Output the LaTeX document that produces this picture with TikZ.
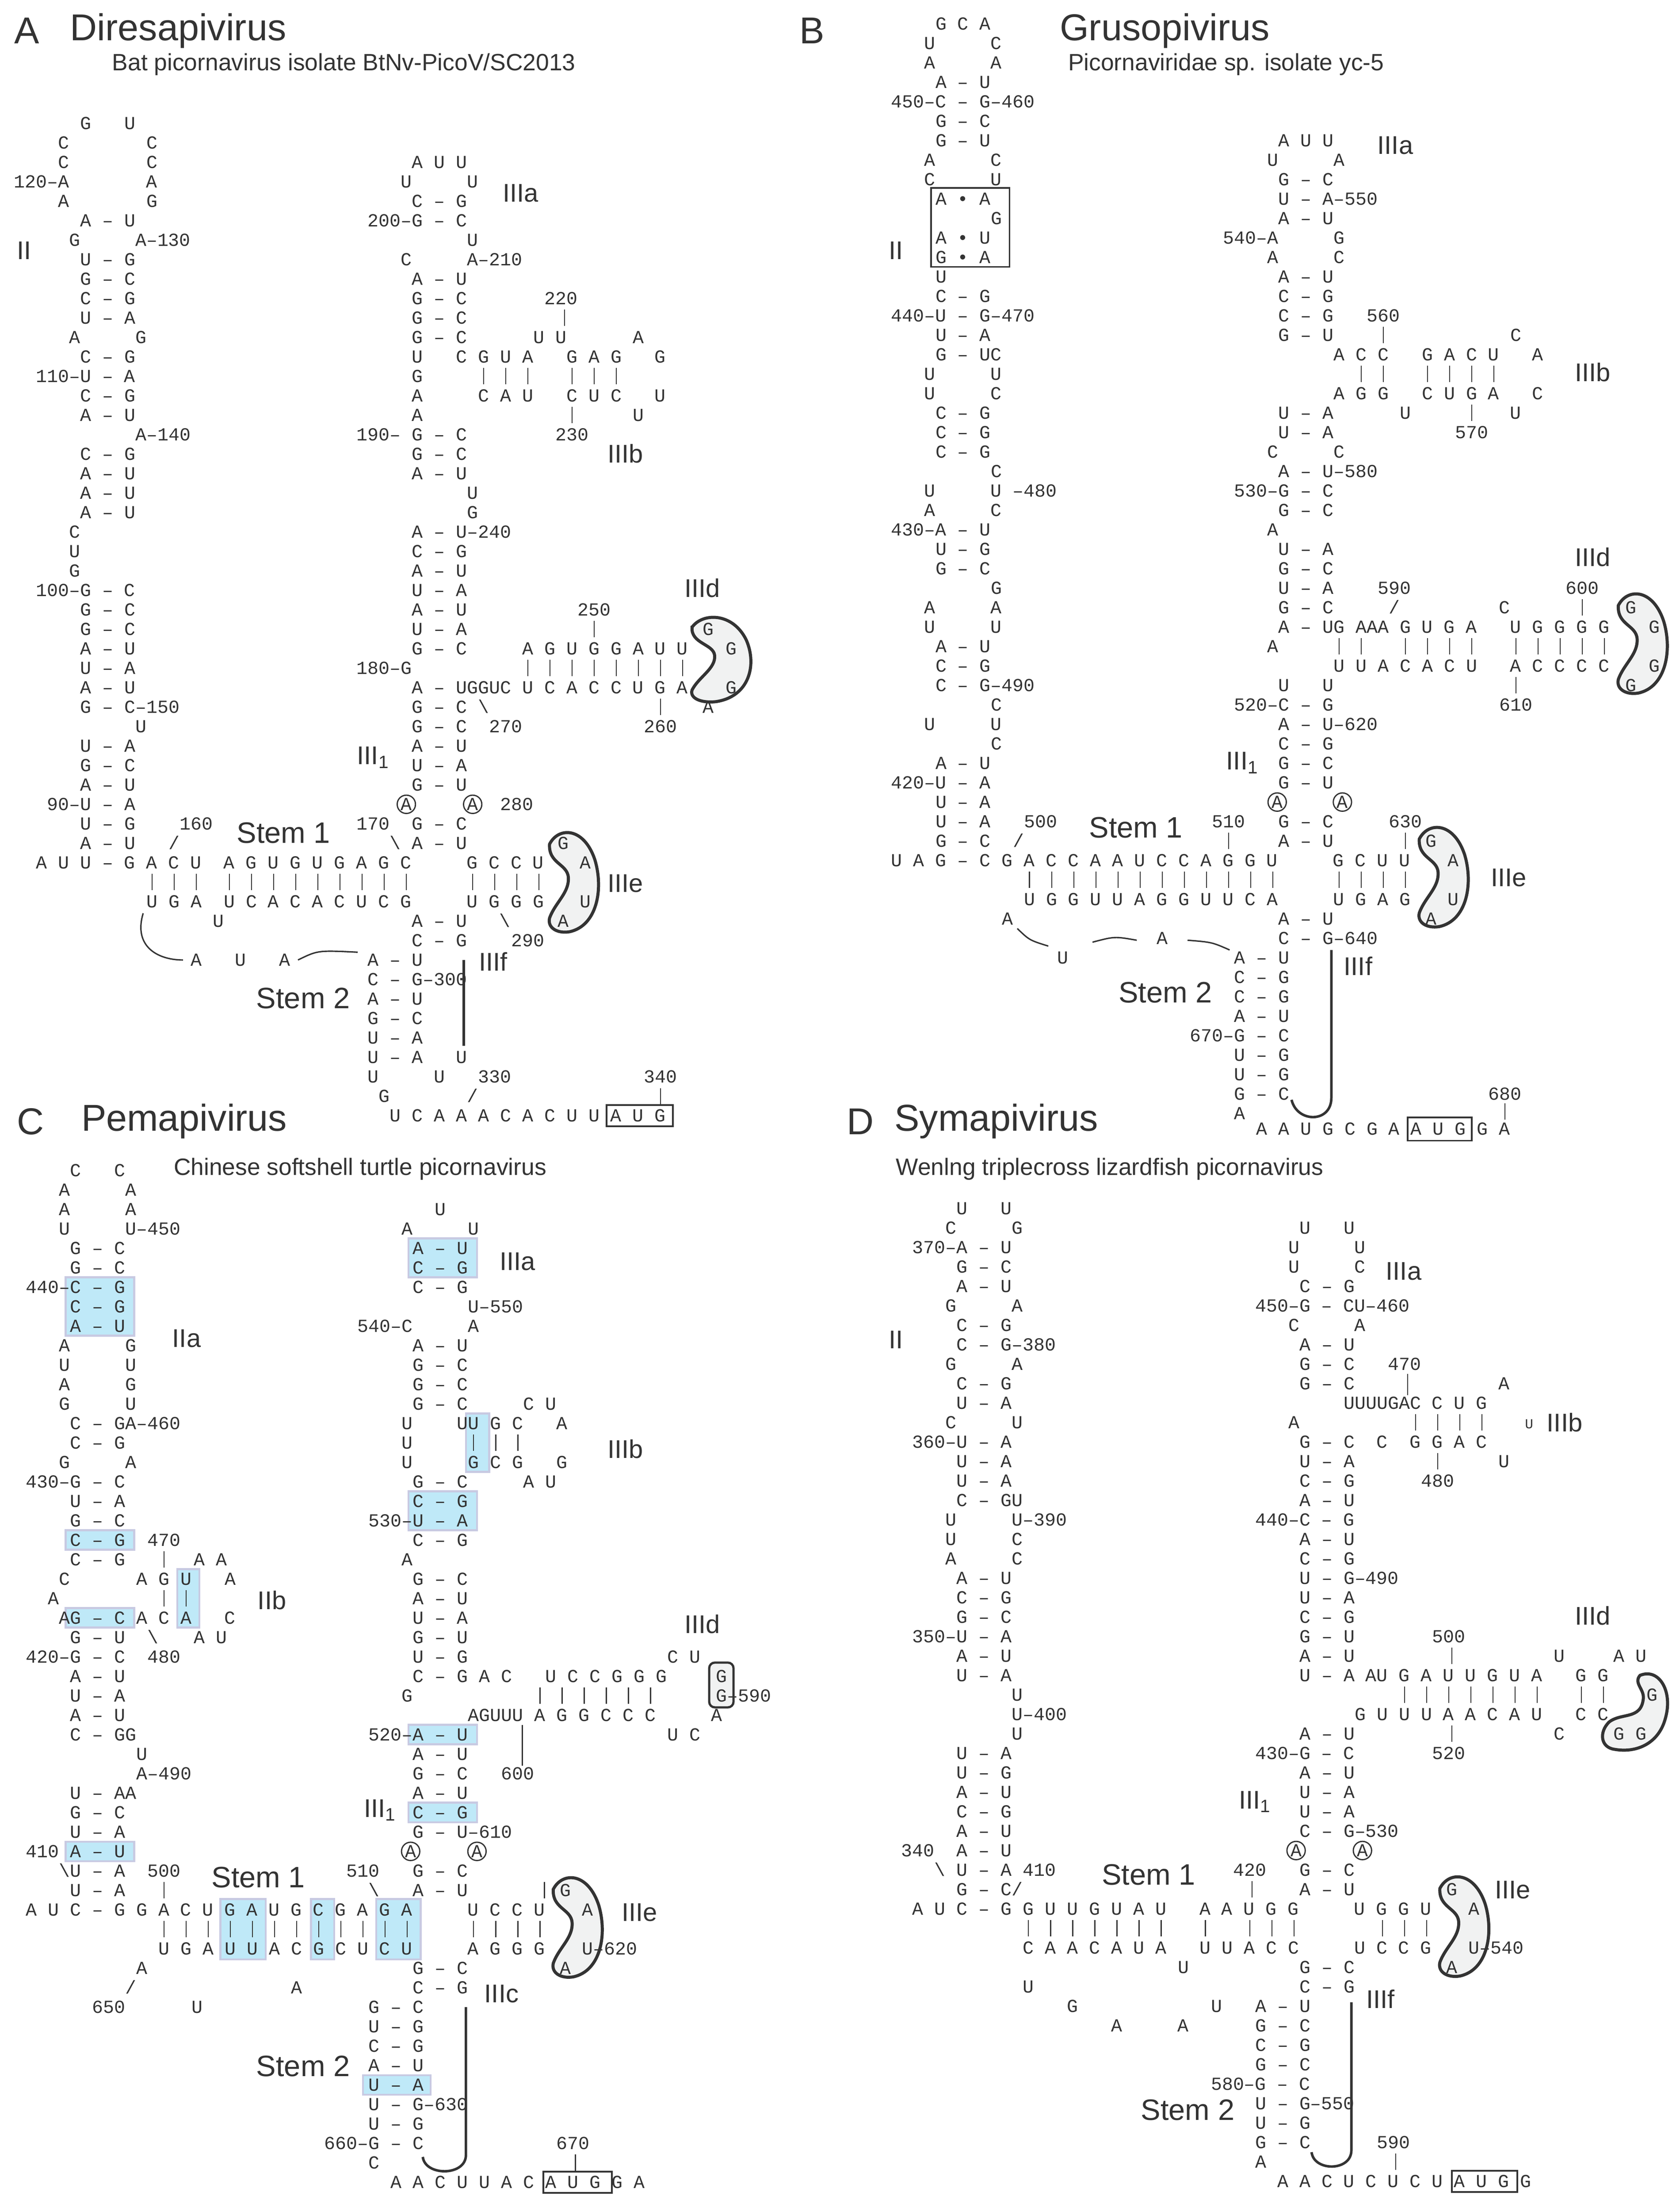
\documentclass[tikz,border=0pt]{standalone}
\usepackage{fontspec}
\setmainfont{Liberation Sans}
\newfontfamily\nucfont{Liberation Mono}
\definecolor{ink}{HTML}{333333}
\definecolor{hl}{HTML}{BFE9F8}
\definecolor{hlb}{HTML}{C8CAE2}
\definecolor{loopfill}{HTML}{F1F2F2}
\tikzset{
 nt/.style={anchor=base west,inner sep=0pt,outer sep=0pt,font=\nucfont\fontsize{18.7}{18.7}\selectfont,text=ink,xshift=-1.975mm,yshift=-2.15mm},
 circA/.style={circle,draw=ink,line width=0.45mm,inner sep=0.25mm,font=\nucfont\fontsize{18.7}{18.7}\selectfont,text=ink},
 lab/.style={anchor=west,inner sep=0pt,font=\fontsize{26}{26}\selectfont,text=ink},
 stl/.style={anchor=west,inner sep=0pt,font=\fontsize{30}{30}\selectfont,text=ink},
 ttl/.style={anchor=west,inner sep=0pt,font=\fontsize{38}{38}\selectfont,text=ink},
 sub/.style={anchor=west,inner sep=0pt,font=\fontsize{24}{24}\selectfont,text=ink},
 hlbox/.style={fill=hl,draw=hlb,line width=0.7mm},
 loopst/.style={fill=loopfill,draw=ink,line width=1.1mm},
 tick/.style={draw=ink,line width=0.35mm},
 arcl/.style={draw=ink,line width=0.5mm},
 bx/.style={draw=ink,line width=0.6mm},
 stemline/.style={draw=ink,line width=0.9mm}
}
\newcommand\R[3]{\node[nt] at (#1,#2) {#3};}
\newcommand\CA[2]{\node[circA] at (#1,#2) {A};}
\newcommand\bars[2]{\foreach \kk in {#2}{\draw[tick] (\kk,#1-0.42) -- (\kk,#1+0.42);}}
\newcommand\bs{\textbackslash{}}
\newcommand\kid[4]{\begin{scope}[shift={(#1,#2)},xscale=#3,yscale=#4]\path[loopst] (-2.3,-2.0) .. controls (-1.5,-2.9) and (0.8,-2.9) .. (1.8,-1.2) .. controls (2.6,0.3) and (2.0,2.2) .. (-0.5,2.5) .. controls (-1.6,2.6) and (-2.5,2.3) .. (-2.3,1.8) .. controls (-1.8,1.0) and (-0.5,0.5) .. (-0.6,-0.3) .. controls (-0.7,-1.0) and (-2.4,-1.0) .. cycle;\end{scope}}
\begin{document}
\begin{tikzpicture}[x=0.5mm,y=-0.5mm]
\useasboundingbox[fill=white] (0,0) rectangle (1200,1579.3);
% ---------------- titles
\node[ttl] (tA) at (10,22) {A};
\node[ttl] (nA) at (50,22) {Diresapivirus};
\node[sub] (sA) at (80,46) {Bat picornavirus isolate BtNv-PicoV/SC2013};
\node[ttl] (tB) at (571,22) {B};
\node[ttl] (nB) at (757,22) {Grusopivirus};
\node[sub] (sB) at (763,46) {Picornaviridae sp. isolate yc-5};
\node[ttl] (tC) at (12,801) {C};
\node[ttl] (nC) at (58,801) {Pemapivirus};
\node[sub] (sC) at (124,835) {Chinese softshell turtle picornavirus};
\node[ttl] (tD) at (605,801) {D};
\node[ttl] (nD) at (639,801) {Symapivirus};
\node[sub] (sD) at (640,835) {Wenlng triplecross lizardfish picornavirus};
% ---------------- labels A
\node[lab] at (12,179) {II};
\node[lab] at (359,138) {IIIa};
\node[lab] at (434,324) {IIIb};
\node[lab] at (489,420) {IIId};
\node[lab] at (255,541) {III\textsubscript{1}};
\node[lab] at (434,631) {IIIe};
\node[lab] at (342,687) {IIIf};
\node[stl] at (169,595) {Stem 1};
\node[stl] at (183,713) {Stem 2};
% ---------------- labels B
\node[lab] at (635,179) {II};
\node[lab] at (984,104) {IIIa};
\node[lab] at (1125,266) {IIIb};
\node[lab] at (1125,398) {IIId};
\node[lab] at (876,545) {III\textsubscript{1}};
\node[lab] at (1065,627) {IIIe};
\node[lab] at (960,690) {IIIf};
\node[stl] at (778,591) {Stem 1};
\node[stl] at (799,709) {Stem 2};
% ---------------- labels C
\node[lab] at (123,956) {IIa};
\node[lab] at (184,1143) {IIb};
\node[lab] at (357,901) {IIIa};
\node[lab] at (434,1035) {IIIb};
\node[lab] at (489,1160) {IIId};
\node[lab] at (260,1293) {III\textsubscript{1}};
\node[lab] at (444,1366) {IIIe};
\node[lab] at (346,1424) {IIIc};
\node[stl] at (151,1341) {Stem 1};
\node[stl] at (183,1476) {Stem 2};
% ---------------- labels D
\node[lab] at (635,957) {II};
\node[lab] at (990,908) {IIIa};
\node[lab] at (1105,1016) {IIIb};
\node[lab] at (1125,1154) {IIId};
\node[lab] at (885,1287) {III\textsubscript{1}};
\node[lab] at (1068,1350) {IIIe};
\node[lab] at (976,1428) {IIIf};
\node[stl] at (787,1339) {Stem 1};
\node[stl] at (815,1507) {Stem 2};

% ================= PANEL A
\begin{scope}[shift={(29.6,88)},x=3.95mm,y=-6.95mm]
\kid{48.25}{39.05}{1}{1}
\kid{61.6}{27.6}{1.2}{0.85}
\R{4}{0}{G~~~U}
\R{2}{1}{C~~~~~~~C}
\R{2}{2}{C~~~~~~~C}
\R{-2}{3}{120–A~~~~~~~A}
\R{2}{4}{A~~~~~~~G}
\R{4}{5}{A~–~U}
\R{3}{6}{G~~~~~A–130}
\R{4}{7}{U~–~G}\R{4}{8}{G~–~C}\R{4}{9}{C~–~G}\R{4}{10}{U~–~A}
\R{3}{11}{A~~~~~G}
\R{4}{12}{C~–~G}
\R{0}{13}{110–U~–~A}
\R{4}{14}{C~–~G}\R{4}{15}{A~–~U}
\R{9}{16}{A–140}
\R{4}{17}{C~–~G}\R{4}{18}{A~–~U}\R{4}{19}{A~–~U}\R{4}{20}{A~–~U}
\R{3}{21}{C}\R{3}{22}{U}\R{3}{23}{G}
\R{0}{24}{100–G~–~C}
\R{4}{25}{G~–~C}\R{4}{26}{G~–~C}\R{4}{27}{A~–~U}\R{4}{28}{U~–~A}\R{4}{29}{A~–~U}
\R{4}{30}{G~–~C–150}
\R{9}{31}{U}
\R{4}{32}{U~–~A}\R{4}{33}{G~–~C}\R{4}{34}{A~–~U}
\R{1}{35}{90–U~–~A}
\R{4}{36}{U~–~G}\R{4}{37}{A~–~U}
\R{13}{36}{160}\R{12}{37}{/}
\R{0}{38}{A~U~U~–~G~A~C~U~~A~G~U~G~U~G~A~G~C~~~~~G~C~C~U}
\bars{39}{10,12,14,17,19,21,23,25,27,29,31,33,39,41,43,45}
\R{10}{40}{U~G~A~~U~C~A~C~A~C~U~C~G~~~~~U~G~G~G}
\R{16}{41}{U}
\R{14}{43}{A~~~U~~~A}
\draw[arcl] (9.2,40.6) .. controls (8.3,42.3) and (10.5,43) .. (12.8,43.0);
\draw[arcl] (23.2,43.0) .. controls (25,42.5) .. (28.6,42.6);
% domain III
\R{34}{2}{A~U~U}
\R{33}{3}{U~~~~~U}
\R{34}{4}{C~–~G}
\R{30}{5}{200–G~–~C}
\R{39}{6}{U}
\R{33}{7}{C~~~~~A–210}
\R{34}{8}{A~–~U}
\R{34}{9}{G~–~C}\R{46}{9}{220}\bars{10}{47.3}
\R{34}{10}{G~–~C}
\R{34}{11}{G~–~C~~~~~~U~U~~~~~~A}
\R{34}{12}{U~~~C~G~U~A~~~G~A~G~~~G}
\R{34}{13}{G}\bars{13}{40,42,44,48,50,52}
\R{34}{14}{A~~~~~C~A~U~~~C~U~C~~~U}
\R{34}{15}{A}\bars{15}{48}\R{54}{15}{U}
\R{29}{16}{190–~G~–~C}\R{47}{16}{230}
\R{34}{17}{G~–~C}\R{34}{18}{A~–~U}\R{39}{19}{U}\R{39}{20}{G}
\R{34}{21}{A~–~U–240}\R{34}{22}{C~–~G}\R{34}{23}{A~–~U}\R{34}{24}{U~–~A}
\R{34}{25}{A~–~U}\R{49}{25}{250}
\R{34}{26}{U~–~A}\bars{26}{50}\R{60.3}{26}{G}
\R{34}{27}{G~–~C~~~~~A~G~U~G~G~A~U~U}\R{62.4}{27}{G}
\R{29}{28}{180–G}\bars{28}{44,46,48,50,52,54,56,58}
\R{34}{29}{A~–~UGGUC~U~C~A~C~C~U~G~A}\R{62.4}{29}{G}
\R{34}{30}{G~–~C~\bs}\bars{30}{56}\R{60.3}{30}{A}
\R{34}{31}{G~–~C}\R{41}{31}{270}\R{55}{31}{260}
\R{34}{32}{A~–~U}\R{34}{33}{U~–~A}\R{34}{34}{G~–~U}
\CA{33}{35}\CA{39}{35}\R{42}{35}{280}
\R{29}{36}{170~~G~–~C}
\R{32}{37}{\bs~A~–~U}
\R{47.2}{37}{G}\R{49.2}{38}{A}\R{49.2}{40}{U}\R{47.2}{41}{A}
\R{41.9}{41}{\bs}\R{43}{42}{290}
\R{34}{41}{A~–~U}\R{34}{42}{C~–~G}
\R{30}{43}{A~–~U}\R{30}{44}{C~–~G–300}\R{30}{45}{A~–~U}\R{30}{46}{G~–~C}\R{30}{47}{U~–~A}
\R{30}{48}{U~–~A~~~U}
\R{30}{49}{U~~~~~U}\R{40}{49}{330}\R{55}{49}{340}
\R{31}{50}{G}\R{39}{50}{/}\bars{50}{56}
\R{32}{51}{U~C~A~A~A~C~A~C~U~U~A~U~G}
\draw[bx] (51.1,50.45) rectangle (57.1,51.55);
\draw[stemline] (38.2,43) -- (38.2,47.4);
\end{scope}

% ================= PANEL B
\begin{scope}[shift={(640.7,16.9)},x=3.95mm,y=-6.95mm]
\kid{49.55}{43.9}{1}{1}
\kid{67.55}{31.9}{1}{1}
\R{4}{0}{G~C~A}
\R{3}{1}{U~~~~~C}\R{3}{2}{A~~~~~A}
\R{4}{3}{A~–~U}
\R{0}{4}{450–C~–~G–460}
\R{4}{5}{G~–~C}\R{4}{6}{G~–~U}
\R{3}{7}{A~~~~~C}\R{3}{8}{C~~~~~U}
\R{4}{9}{A~•~A}\R{9}{10}{G}\R{4}{11}{A~•~U}\R{4}{12}{G~•~A}
\draw[bx] (3.1,8.45) rectangle (10.2,12.5);
\R{4}{13}{U}
\R{4}{14}{C~–~G}
\R{0}{15}{440–U~–~G–470}
\R{4}{16}{U~–~A}
\R{4}{17}{G~–~UC}
\R{3}{18}{U~~~~~U}\R{3}{19}{U~~~~~C}
\R{4}{20}{C~–~G}\R{4}{21}{C~–~G}\R{4}{22}{C~–~G}
\R{9}{23}{C}
\R{3}{24}{U~~~~~U~–480}
\R{3}{25}{A~~~~~C}
\R{0}{26}{430–A~–~U}
\R{4}{27}{U~–~G}\R{4}{28}{G~–~C}
\R{9}{29}{G}
\R{3}{30}{A~~~~~A}\R{3}{31}{U~~~~~U}
\R{4}{32}{A~–~U}\R{4}{33}{C~–~G}\R{4}{34}{C~–~G–490}
\R{9}{35}{C}\R{3}{36}{U~~~~~U}\R{9}{37}{C}
\R{4}{38}{A~–~U}\R{0}{39}{420–U~–~A}\R{4}{40}{U~–~A}\R{4}{41}{U~–~A}\R{4}{42}{G~–~C}
\R{12}{41}{500}\R{11}{42}{/}
\R{29}{41}{510}\bars{42}{30}
\R{0}{43}{U~A~G~–~C~G~A~C~C~A~A~U~C~C~A~G~G~U~~~~~G~C~U~U}
\bars{44}{12,14,16,18,20,22,24,26,28,30,32,34,40,42,44,46}
\R{12}{45}{U~G~G~U~U~A~G~G~U~U~C~A~~~~~U~G~A~G}
\R{10}{46}{A}\R{15}{48}{U}\R{24}{47}{A}
\draw[arcl] (10.9,46.5) .. controls (12,47.1) .. (13.7,47.4);
\draw[arcl] (17.7,47.2) .. controls (19.7,46.9) .. (21.7,47.1);
\draw[arcl] (26.3,47.1) .. controls (28.5,47.2) .. (30.1,47.6);
\R{31}{48}{A~–~U}\R{31}{49}{C~–~G}\R{31}{50}{C~–~G}\R{31}{51}{A~–~U}
\R{27}{52}{670–G~–~C}\R{31}{53}{U~–~G}\R{31}{54}{U~–~G}\R{31}{55}{G~–~C}\R{31}{56}{A}
\R{33}{56.8}{A~A~U~G~C~G~A~A~U~G~G~A}
\draw[bx] (46.2,56.2) rectangle (52.0,57.4);
\R{54}{55}{680}\bars{55.9}{55}
\draw[stemline] (39.3,47.6) -- (39.3,55.2) .. controls (39.3,56.5) and (36.2,56.5) .. (35.7,55.3);
% domain III
\R{35}{6}{A~U~U}
\R{34}{7}{U~~~~~A}
\R{35}{8}{G~–~C}\R{35}{9}{U~–~A–550}\R{35}{10}{A~–~U}
\R{30}{11}{540–A~~~~~G}\R{34}{12}{A~~~~~C}
\R{35}{13}{A~–~U}\R{35}{14}{C~–~G}\R{35}{15}{C~–~G}\R{43}{15}{560}
\R{35}{16}{G~–~U}\bars{16}{44}\R{56}{16}{C}
\R{40}{17}{A~C~C~~~G~A~C~U~~~A}
\bars{18}{42,44,48,50,52,54}
\R{40}{19}{A~G~G~~~C~U~G~A~~~C}
\R{35}{20}{U~–~A~~~~~~U~~~~~~~~~U}\bars{20}{52}
\R{35}{21}{U~–~A}\R{51}{21}{570}
\R{34}{22}{C~~~~~C}
\R{35}{23}{A~–~U–580}\R{31}{24}{530–G~–~C}\R{35}{25}{G~–~C}\R{34}{26}{A}
\R{35}{27}{U~–~A}\R{35}{28}{G~–~C}\R{35}{29}{U~–~A}\R{44}{29}{590}\R{61}{29}{600}
\R{35}{30}{G~–~C~~~~~/~~~~~~~~~C}\bars{30}{62}
\R{35}{31}{A~–~UG~AAA~G~U~G~A~~~U~G~G~G~G}
\R{34}{32}{A}\bars{32}{40,42,46,48,50,52,56,58,60,62,64}
\R{40}{33}{U~U~A~C~A~C~U~~~A~C~C~C~C}
\R{35}{34}{U~~~U}\bars{34}{56}
\R{31}{35}{520–C~–~G}\R{55}{35}{610}
\R{66.4}{30}{G}\R{68.5}{31}{G}\R{68.5}{33}{G}\R{66.4}{34}{G}
\R{35}{36}{A~–~U–620}\R{35}{37}{C~–~G}\R{35}{38}{G~–~C}\R{35}{39}{G~–~U}
\CA{34.4}{40}\CA{40.3}{40}
\R{35}{41}{G~–~C}\R{45}{41}{630}\R{35}{42}{A~–~U}\bars{42}{46}
\R{48.3}{42}{G}\R{50.3}{43}{A}\R{50.3}{45}{U}\R{48.3}{46}{A}
\R{35}{46}{A~–~U}\R{35}{47}{C~–~G–640}
\end{scope}

% ================= PANEL C
\begin{scope}[shift={(22.4,835.9)},x=3.95mm,y=-6.95mm]
\path[hlbox] (3.1,5.5) rectangle (9.3,8.5);
\path[hlbox] (3.1,18.5) rectangle (9.3,19.5);
\path[hlbox] (13.2,20.5) rectangle (15.2,23.5);
\path[hlbox] (3.1,22.5) rectangle (9.3,23.5);
\path[hlbox] (3.1,34.5) rectangle (9.3,35.5);
\path[hlbox] (17.1,37.45) rectangle (21.2,40.55);
\path[hlbox] (25.3,37.45) rectangle (27.4,40.55);
\path[hlbox] (31.2,37.45) rectangle (35.2,40.55);
\path[hlbox] (34.1,3.5) rectangle (40.3,5.5);
\path[hlbox] (39.3,12.5) rectangle (41.4,15.5);
\path[hlbox] (34.1,16.5) rectangle (40.3,18.5);
\path[hlbox] (34.1,28.5) rectangle (40.3,29.5);
\path[hlbox] (34.1,32.5) rectangle (40.3,33.5);
\path[hlbox] (30.0,46.5) rectangle (36.1,47.5);
\kid{49.5}{38.95}{1}{1}
\draw[loopst,line width=0.8mm,rounded corners=2mm] (61.3,25.3) rectangle (63.5,27.6);
\R{4}{0}{C~~~C}\R{3}{1}{A~~~~~A}\R{3}{2}{A~~~~~A}\R{3}{3}{U~~~~~U–450}
\R{4}{4}{G~–~C}\R{4}{5}{G~–~C}\R{0}{6}{440–C~–~G}\R{4}{7}{C~–~G}\R{4}{8}{A~–~U}
\R{3}{9}{A~~~~~G}\R{3}{10}{U~~~~~U}\R{3}{11}{A~~~~~G}\R{3}{12}{G~~~~~U}
\R{4}{13}{C~–~GA–460}\R{4}{14}{C~–~G}\R{3}{15}{G~~~~~A}\R{0}{16}{430–G~–~C}
\R{4}{17}{U~–~A}\R{4}{18}{G~–~C}\R{4}{19}{C~–~G}\R{11}{19}{470}
\R{4}{20}{C~–~G}\bars{20}{12}\R{15.2}{20}{A~A}
\R{3}{21}{C~~~~~~A~G~U~~~A}
\R{2}{22}{A}\bars{22}{12,14}
\R{3}{23}{AG~–~C~A~C~A~~~C}
\R{4}{24}{G~–~U}\R{11}{24}{\bs}\R{15.2}{24}{A~U}
\R{0}{25}{420–G~–~C}\R{11}{25}{480}
\R{4}{26}{A~–~U}\R{4}{27}{U~–~A}\R{4}{28}{A~–~U}\R{4}{29}{C~–~GG}
\R{10}{30}{U}\R{10}{31}{A–490}\R{4}{32}{U~–~AA}\R{4}{33}{G~–~C}\R{4}{34}{U~–~A}
\R{0}{35}{410~A~–~U}
\R{3}{36}{\bs{}U~–~A}\R{11}{36}{500}
\R{4}{37}{U~–~A}\bars{37}{12}
\R{0}{38}{A~U~C~–~G~G~A~C~U~G~A~U~G~C~G~A~G~A~~~~~U~C~C~U}
\bars{39}{12,14,16,18,20,22,24,26,28,30,32,34,40,42,44,46}
\R{12}{40}{U~G~A~U~U~A~C~G~C~U~C~U~~~~~A~G~G~G}
\R{10}{41}{A}\R{9}{42}{/}\R{6}{43}{650}\R{15}{43}{U}\R{24}{42}{A}
% domain III
\R{37}{2}{U}\R{34}{3}{A~~~~~U}
\R{35}{4}{A~–~U}\R{35}{5}{C~–~G}\R{35}{6}{C~–~G}\R{40}{7}{U–550}\R{30}{8}{540–C~~~~~A}
\R{35}{9}{A~–~U}\R{35}{10}{G~–~C}\R{35}{11}{G~–~C}\R{35}{12}{G~–~C~~~~~C~U}
\R{34}{13}{U~~~~UU~G~C~~~A}
\R{34}{14}{U}\bars{14}{40,42,44}
\R{34}{15}{U~~~~~G~C~G~~~G}
\R{35}{16}{G~–~C~~~~~A~U}
\R{35}{17}{C~–~G}\R{31}{18}{530–U~–~A}\R{35}{19}{C~–~G}\R{34}{20}{A}
\R{35}{21}{G~–~C}\R{35}{22}{A~–~U}\R{35}{23}{U~–~A}\R{35}{24}{G~–~U}\R{35}{25}{U~–~G}\R{58}{25}{C~U}
\R{35}{26}{C~–~G~A~C~~~U~C~C~G~G~G}\R{62.4}{26}{G}
\R{34}{27}{G}\bars{27}{46,48,50,52,54,56}\R{62.4}{27}{G–590}
\R{40}{28}{AGUUU~A~G~G~C~C~C~~~~~A}
\draw[tick] (44.4,28.5) -- (44.4,30.6);
\R{31}{29}{520–A~–~U}\R{58}{29}{U~C}
\R{35}{30}{A~–~U}\R{35}{31}{G~–~C}\R{43}{31}{600}\R{35}{32}{A~–~U}\R{35}{33}{C~–~G}\R{35}{34}{G~–~U–610}
\CA{34.3}{35}\CA{40.3}{35}
\R{35}{36}{G~–~C}\R{29}{36}{510}\R{35}{37}{A~–~U}\R{31}{37}{\bs}\bars{37}{46.4}
\R{48.3}{37}{G}\R{50.3}{38}{A}\R{50.3}{40}{U–620}\R{48.3}{41}{A}
\R{35}{41}{G~–~C}\R{35}{42}{C~–~G}
\R{31}{43}{G~–~C}\R{31}{44}{U~–~G}\R{31}{45}{C~–~G}\R{31}{46}{A~–~U}\R{31}{47}{U~–~A}
\R{31}{48}{U~–~G–630}\R{31}{49}{U~–~G}\R{27}{50}{660–G~–~C}\R{31}{51}{C}
\R{33}{52}{A~A~C~U~U~A~C~A~U~G~G~A}
\draw[bx] (46.3,51.45) rectangle (52.5,52.55);
\R{48}{50}{670}\bars{51}{49.2}
\draw[stemline] (39.3,43) -- (39.3,50.6) .. controls (39.3,51.7) and (35.6,51.7) .. (35.4,50.7);
\end{scope}

% ================= PANEL D
\begin{scope}[shift={(655.8,835.3)},x=3.95mm,y=-6.95mm]
\kid{49.5}{38.95}{1}{1}
\path[loopst] (65.3,26.0) .. controls (67,25.6) and (68.3,26.8) .. (67.6,28.2) .. controls (67,29.5) and (65,30) .. (63,29.8) .. controls (61.7,29.7) and (61.6,28.9) .. (62.5,28.4) .. controls (63.6,27.9) and (65.4,28.3) .. (65.6,27.2) .. controls (65.7,26.7) and (64.7,26.4) .. cycle;
\R{4}{2}{U~~~U}\R{3}{3}{C~~~~~G}\R{0}{4}{370–A~–~U}\R{4}{5}{G~–~C}\R{4}{6}{A~–~U}\R{3}{7}{G~~~~~A}
\R{4}{8}{C~–~G}\R{4}{9}{C~–~G–380}\R{3}{10}{G~~~~~A}\R{4}{11}{C~–~G}\R{4}{12}{U~–~A}\R{3}{13}{C~~~~~U}
\R{0}{14}{360–U~–~A}\R{4}{15}{U~–~A}\R{4}{16}{U~–~A}\R{4}{17}{C~–~GU}
\R{3}{18}{U~~~~~U–390}\R{3}{19}{U~~~~~C}\R{3}{20}{A~~~~~C}
\R{4}{21}{A~–~U}\R{4}{22}{C~–~G}\R{4}{23}{G~–~C}\R{0}{24}{350–U~–~A}\R{4}{25}{A~–~U}\R{4}{26}{U~–~A}
\R{9}{27}{U}\R{9}{28}{U–400}\R{9}{29}{U}
\R{4}{30}{U~–~A}\R{4}{31}{U~–~G}\R{4}{32}{A~–~U}\R{4}{33}{C~–~G}\R{4}{34}{A~–~U}\R{4}{35}{A~–~U}
\R{-1}{35}{340}\R{2}{36}{\bs}
\R{4}{36}{U~–~A~410}\R{4}{37}{G~–~C/}
\R{0}{38}{A~U~C~–~G~G~U~U~G~U~A~U~~~A~A~U~G~G~~~~~U~G~G~U}
\bars{39}{10,12,14,16,18,20,22,26,30,32,34,42,44,46}
\R{10}{40}{C~A~A~C~A~U~A~~~U~U~A~C~C~~~~~U~C~C~G}
\R{24}{41}{U}\R{10}{42}{U}\R{14}{43}{G}\R{27}{43}{U}\R{18}{44}{A~~~~~A}
% domain III
\R{35}{3}{U~~~U}\R{34}{4}{U~~~~~U}\R{34}{5}{U~~~~~C}\R{35}{6}{C~–~G}
\R{31}{7}{450–G~–~CU–460}\R{34}{8}{C~~~~~A}
\R{35}{9}{A~–~U}\R{35}{10}{G~–~C}\R{43}{10}{470}\R{35}{11}{G~–~C}\R{53}{11}{A}
\draw[tick] (44.3,10.5) -- (44.3,11.6);
\R{39}{12}{UUUUGAC~C~U~G}
\R{34}{13}{A}\bars{13}{45,47,49,51}
\node[nt,font=\nucfont\fontsize{14}{14}\selectfont] at (55.4,13) {U};
\R{35}{14}{G~–~C~~C~~G~G~A~C}
\R{35}{15}{U~–~A}\bars{15}{47}\R{53}{15}{U}
\R{35}{16}{C~–~G}\R{46}{16}{480}
\R{35}{17}{A~–~U}\R{31}{18}{440–C~–~G}\R{35}{19}{A~–~U}\R{35}{20}{C~–~G}\R{35}{21}{U~–~G–490}
\R{35}{22}{U~–~A}\R{35}{23}{C~–~G}\R{35}{24}{G~–~U}\R{47}{24}{500}
\R{35}{25}{A~–~U}\bars{25}{48.3}\R{58}{25}{U}\R{63.4}{25}{A~U}
\R{35}{26}{U~–~A~AU~G~A~U~U~G~U~A~~~G~G}
\bars{27}{44,46,48,50,52,54,56,60,62}\R{66.4}{27}{G}
\R{40}{28}{G~U~U~U~A~A~C~A~U~~~C~C}
\R{35}{29}{A~–~U}\bars{29}{48.3}\R{58}{29}{C}\R{63.4}{29}{G~G}
\R{31}{30}{430–G~–~C}\R{47}{30}{520}
\R{35}{31}{A~–~U}\R{35}{32}{U~–~A}\R{35}{33}{U~–~A}\R{35}{34}{C~–~G–530}
\CA{34.2}{35}\CA{40.2}{35}
\R{35}{36}{G~–~C}\R{29}{36}{420}\R{35}{37}{A~–~U}\bars{37}{30.2}
\R{48.3}{37}{G}\R{50.3}{38}{A}\R{50.3}{40}{U–540}\R{48.3}{41}{A}
\R{35}{41}{G~–~C}\R{35}{42}{C~–~G}
\R{31}{43}{A~–~U}\R{31}{44}{G~–~C}\R{31}{45}{C~–~G}\R{31}{46}{G~–~C}\R{27}{47}{580–G~–~C}
\R{31}{48}{U~–~G–550}\R{31}{49}{U~–~G}\R{31}{50}{G~–~C}\R{31}{51}{A}
\R{42}{50}{590}\bars{51}{43.2}
\R{33}{52}{A~A~C~U~C~U~C~U~A~U~G~G}
\draw[bx] (48.3,51.45) rectangle (54.2,52.55);
\draw[stemline] (39.2,42.8) -- (39.2,50.4) .. controls (39.2,51.5) and (35.8,51.5) .. (35.6,50.5);
\end{scope}
\end{tikzpicture}
\end{document}
